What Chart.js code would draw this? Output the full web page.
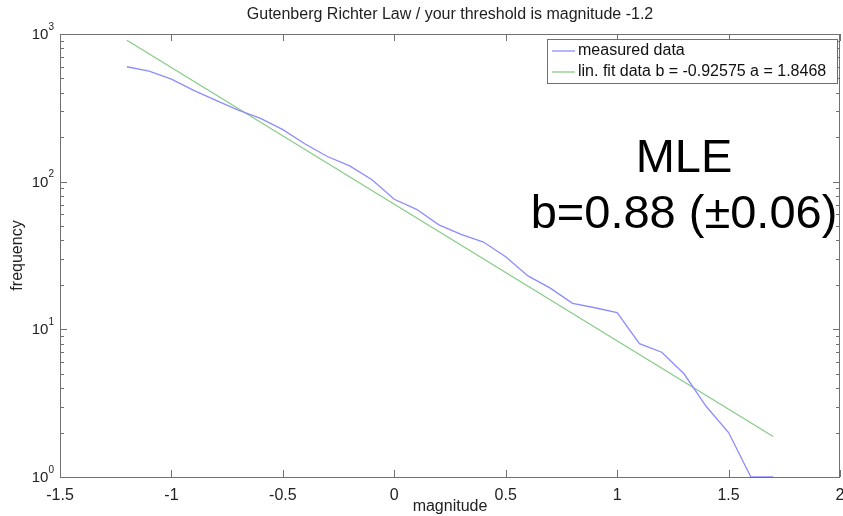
<!DOCTYPE html>
<html>
<head>
<meta charset="utf-8">
<script src="https://cdn.jsdelivr.net/npm/chart.js@4.4.1/dist/chart.umd.min.js"></script>
<style>
  html, body { margin: 0; padding: 0; background: #fff; }
  #wrap { width: 843px; height: 516px; position: relative; }
</style>
</head>
<body>
<div id="wrap"><canvas id="grafico"></canvas></div>
<script>
// dados
const magnitudes = [-1.2, -1.1, -1.0, -0.9, -0.8, -0.7, -0.6, -0.5, -0.4, -0.3,
                    -0.2, -0.1, 0.0, 0.1, 0.2, 0.3, 0.4, 0.5, 0.6, 0.7,
                    0.8, 0.9, 1.0, 1.1, 1.2, 1.3, 1.4, 1.5, 1.6, 1.7];
const measured = [600, 560, 495, 415, 355, 305, 268, 225, 180, 148,
                  128, 103, 76, 65, 51, 44, 39, 31, 23, 19,
                  15, 14, 13, 8, 7, 5, 3, 2, 1, 1];
const fitMag = [-1.2, 1.7];
const fitFreq = [907.5, 1.88];
const yMajor = [1, 10, 100, 1000];
const yMajorExp = ['0', '1', '2', '3'];
const xMajor = [-1.5, -1, -0.5, 0, 0.5, 1, 1.5, 2];
const legendLabels = ['measured data', 'lin. fit data b = -0.92575 a = 1.8468'];
const mleText = ['MLE', 'b=0.88 (\u00b10.06)'];

const FONT = "'Liberation Sans', Arial, sans-serif";
const corAzul = '#8c8cff';
const corVerde = '#88cc88';

// caixa, ticks internos, rótulos do eixo y, legenda e texto MLE
const matlabBox = {
    id: 'matlabBox',
    afterDraw(chart) {
        const ctx = chart.ctx;
        const a = chart.chartArea;
        const xs = chart.scales.x;
        const ys = chart.scales.y;
        ctx.save();
        ctx.strokeStyle = '#707070';
        ctx.lineWidth = 1;
        ctx.strokeRect(Math.round(a.left) + 0.5, Math.round(a.top) + 0.5,
                       Math.round(a.right - a.left) - 1, Math.round(a.bottom - a.top));

        // ticks do x (em cima e em baixo)
        ctx.beginPath();
        xMajor.forEach(v => {
            const px = Math.round(xs.getPixelForValue(v)) + 0.5;
            ctx.moveTo(px, a.bottom); ctx.lineTo(px, a.bottom - 7);
            ctx.moveTo(px, a.top); ctx.lineTo(px, a.top + 7);
        });
        // ticks do y (maiores e menores)
        for (let d = 0; d < 3; d++) {
            for (let k = 1; k < 10; k++) {
                const v = k * Math.pow(10, d);
                const py = Math.round(ys.getPixelForValue(v)) + 0.5;
                const len = k === 1 ? 7 : 4;
                ctx.moveTo(a.left, py); ctx.lineTo(a.left + len, py);
                ctx.moveTo(a.right, py); ctx.lineTo(a.right - len, py);
            }
        }
        ctx.stroke();

        // rótulos 10^n
        ctx.fillStyle = '#222';
        ctx.textBaseline = 'middle';
        yMajor.forEach((v, i) => {
            const py = ys.getPixelForValue(v);
            ctx.font = '10px ' + FONT;
            ctx.textAlign = 'right';
            const ex = yMajorExp[i];
            const w = ctx.measureText(ex).width;
            ctx.fillText(ex, a.left - 6, py - 7);
            ctx.font = '15px ' + FONT;
            ctx.fillText('10', a.left - 6 - w, py + 1);
        });

        // legenda
        const lx = 547, ly = 39, lw = 290, lh = 44;
        ctx.fillStyle = '#fff';
        ctx.fillRect(lx, ly, lw, lh);
        ctx.strokeStyle = '#707070';
        ctx.strokeRect(lx + 0.5, ly + 0.5, lw, lh);
        const cores = [corAzul, corVerde];
        legendLabels.forEach((t, i) => {
            const yy = ly + 12 + i * 21;
            ctx.strokeStyle = cores[i];
            ctx.lineWidth = 1.3;
            ctx.beginPath();
            ctx.moveTo(lx + 5, yy); ctx.lineTo(lx + 28, yy);
            ctx.stroke();
            ctx.fillStyle = '#111';
            ctx.font = '16px ' + FONT;
            ctx.textAlign = 'left';
            ctx.fillText(t, lx + 31, yy);
        });

        // texto MLE
        ctx.fillStyle = '#000';
        ctx.font = '47px ' + FONT;
        ctx.textAlign = 'center';
        ctx.textBaseline = 'alphabetic';
        ctx.fillText(mleText[0], 684, 172);
        ctx.fillText(mleText[1], 684, 228);
        ctx.restore();
    }
};

const config = {
    type: 'line',
    data: {
        datasets: [{
            label: legendLabels[0],
            data: magnitudes.map((m, i) => ({ x: m, y: measured[i] })),
            borderColor: corAzul,
            borderWidth: 1.3,
            pointRadius: 0,
            tension: 0,
            fill: false
        }, {
            label: legendLabels[1],
            data: fitMag.map((m, i) => ({ x: m, y: fitFreq[i] })),
            borderColor: corVerde,
            borderWidth: 1.3,
            pointRadius: 0,
            tension: 0,
            fill: false
        }]
    },
    options: {
        responsive: false,
        animation: false,
        layout: { padding: { left: 0, right: 3, top: 0, bottom: 0 } },
        plugins: {
            legend: { display: false },
            tooltip: { enabled: false },
            title: {
                display: true,
                fullSize: false,
                text: 'Gutenberg Richter Law / your threshold is magnitude -1.2',
                color: '#222',
                font: { family: FONT, size: 16, weight: 'normal' },
                padding: { top: 5.4, bottom: 9.4 }
            }
        },
        scales: {
            x: {
                type: 'linear',
                min: -1.5,
                max: 2,
                grid: { display: false },
                border: { display: false },
                ticks: {
                    stepSize: 0.5,
                    color: '#222',
                    padding: 1,
                    maxRotation: 0,
                    autoSkip: false,
                    font: { family: FONT, size: 16 },
                    callback: v => String(v)
                },
                title: {
                    display: true,
                    text: 'magnitude',
                    color: '#222',
                    font: { family: FONT, size: 16 },
                    padding: { top: 0, bottom: 0 }
                },
                afterFit(scale) {
                    scale.height = 39;
                    scale.paddingLeft = 0;
                    scale.paddingRight = 0;
                }
            },
            y: {
                type: 'logarithmic',
                min: 1,
                max: 1000,
                grid: { display: false },
                border: { display: false },
                ticks: { display: false },
                title: {
                    display: true,
                    text: 'frequency',
                    color: '#222',
                    font: { family: FONT, size: 16 },
                    padding: { top: 8.4, bottom: 0 }
                },
                afterFit(scale) { scale.width = 60; }
            }
        }
    },
    plugins: [matlabBox]
};

const canvas = document.getElementById('grafico');
canvas.width = 843;
canvas.height = 516;
new Chart(canvas, config);
</script>
</body>
</html>
